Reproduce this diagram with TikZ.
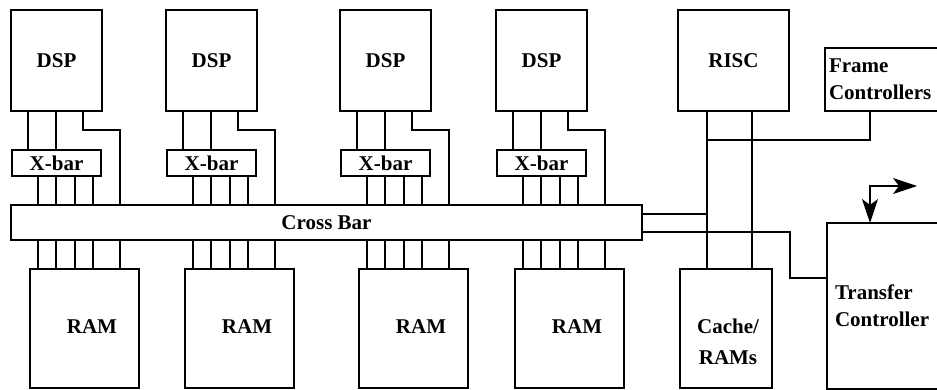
\documentclass[tikz,border=0pt]{standalone}
\usepackage{fontspec}
\setmainfont{Liberation Serif}
\usetikzlibrary{arrows.meta}

\tikzset{
  blk/.style={draw, inner sep=0pt, outer sep=0pt, anchor=north west},
  lbl/.style={font=\fontsize{21}{27}\selectfont\bfseries, align=center},
  bidir/.style={{Stealth[length=24pt,width=16pt,inset=6pt]}-{Stealth[length=24pt,width=16pt,inset=6pt]}},
}

\begin{document}
\begin{tikzpicture}[x=1pt, y=-1pt, line width=1.8pt]
  \clip (0,0) rectangle (937,390);

  % Draw cross bar
  \node[blk, lbl, minimum width=631pt, minimum height=35pt] (cross) at (11,205) {Cross Bar};

  % Draw DSP, X-bar and RAM columns
  \foreach \n/\L in {1/11,2/166,3/340,4/496}{
    \node[blk, lbl, minimum width=91pt, minimum height=101pt] (dsp\n) at (\L,10) {DSP};
    \node[blk, lbl, minimum width=89pt, minimum height=26pt] (xbar\n) at (\L+1,150) {X-bar};
    \node[blk, minimum width=109pt, minimum height=119pt] (ram\n) at (\L+19,269) {};
    \node[lbl] (ramtxt\n) at (\L+81,327) {RAM};
    % DSP to X-bar and cross bar
    \draw ([xshift=17pt]dsp\n.south west) -- ([xshift=16pt]xbar\n.north west);
    \draw ([xshift=45pt]dsp\n.south west) -- ([xshift=44pt]xbar\n.north west);
    \draw ([xshift=72pt]dsp\n.south west) -- ++(0,19) -| ({\L+109},0 |- cross.north);
    \foreach \d in {27,45,64,82}
      \draw ({\L+\d},0 |- xbar\n.south) -- ({\L+\d},0 |- cross.north);
    % cross bar to RAM
    \foreach \d in {27,45,64,82,109}
      \draw ({\L+\d},0 |- cross.south) -- ({\L+\d},0 |- ram\n.north);
  }

  % Draw RISC side
  \node[blk, lbl, minimum width=111pt, minimum height=101pt] (risc) at (678,10) {RISC};
  \node[blk, lbl, align=left, text width=112pt, inner xsep=4pt, minimum height=63pt] (frame) at (825,48) {Frame\\Controllers};
  \node[blk, minimum width=92pt, minimum height=119pt] (cache) at (680,269) {};
  \node[lbl] (cachetxt) at (728,342) {Cache/\\[4pt]RAMs};
  \node[blk, lbl, align=left, text width=104pt, inner xsep=8pt, minimum height=166pt] (transfer) at (827,223) {Transfer\\Controller};

  \coordinate (rl) at ([xshift=29pt]risc.south west);
  \draw (rl) -- ([xshift=27pt]cache.north west);
  \draw ([xshift=74pt]risc.south west) -- ([xshift=72pt]cache.north west);
  \draw (rl) ++(0,29) -| ([xshift=45pt]frame.south west);
  \draw (cross.north east) ++(0,9) coordinate (c1) -- (c1 -| rl);
  \draw (cross.north east) ++(0,27) coordinate (c2) -- ++(148,0) |- ([yshift=-55pt]transfer.north west);

  % Draw in/out arrow
  \coordinate (tcout) at ([xshift=90pt,yshift=37pt]transfer.north west);
  \draw[bidir] ([xshift=43pt]transfer.north west) |- (tcout);
\end{tikzpicture}
\end{document}
